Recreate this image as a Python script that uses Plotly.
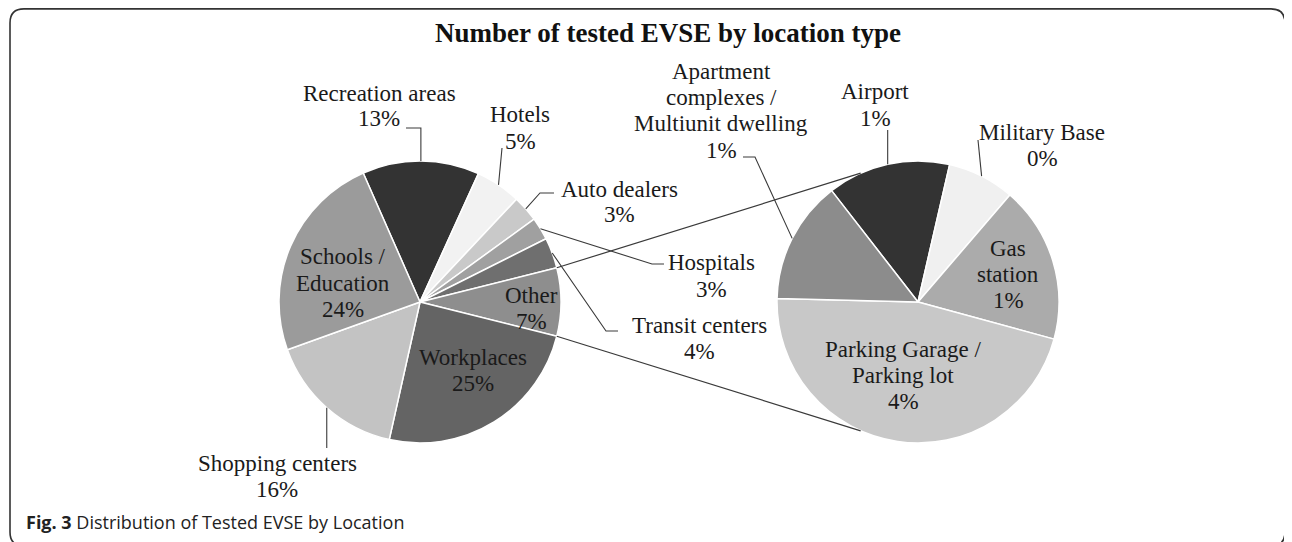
import numpy as np
import plotly.graph_objects as go

# the page puts the figure 8px in from the top-left corner of the window
OFF = 8
W, H = 1292 - OFF, 542 - OFF

# ---- data (slice sizes in % of all tested EVSE) ----
left_names = ["Recreation areas", "Hotels", "Auto dealers", "Hospitals", "Transit centers",
              "Other", "Workplaces", "Shopping centers", "Schools /<br>Education"]
left_values = [13.4, 5.2, 3.0, 2.6, 3.5, 7.8, 24.6, 16.0, 23.9]
left_pct = ["13%", "5%", "3%", "3%", "4%", "7%", "25%", "16%", "24%"]

# "Other" broken down in the second pie
right_names = ["Airport", "Military Base", "Gas<br>station", "Parking Garage /<br>Parking lot",
               "Apartment<br>complexes /<br>Multiunit dwelling"]
right_values = [1.1, 0.6, 1.4, 3.6, 1.1]
right_pct = ["1%", "0%", "1%", "4%", "1%"]

left_colors = ["#333333", "#f2f2f2", "#c9c9c9", "#a0a0a0", "#6f6f6f",
               "#8e8e8e", "#646464", "#c3c3c3", "#9b9b9b"]
right_colors = ["#333333", "#f0f0f0", "#ababab", "#c8c8c8", "#8c8c8c"]

OTHER = left_names.index("Other")

# pie geometry in window pixels
LC, RC, R = (420, 302), (918, 302), 141
# Excel centres the "Other" slice on 3 o'clock
tot = sum(left_values)
left_rot = 90 - (sum(left_values[:OTHER]) + left_values[OTHER] / 2) / tot * 360
right_rot = -37.8


def px(x):
    return (x - OFF) / W


def py(y):
    return 1 - (y - OFF) / H


def dom(c):
    return dict(x=[px(c[0] - R), px(c[0] + R)], y=[py(c[1] + R), py(c[1] - R)])


def edges(values, rot):
    cum = np.concatenate([[0], np.cumsum(values)]) / sum(values) * 360
    return rot + cum


def on_circle(c, ang):
    a = np.radians(ang)
    return c[0] + R * np.sin(a), c[1] - R * np.cos(a)


def poly(points, width=1.1, color="#3a3a3a"):
    d = "M " + " L ".join(f"{px(x):.5f},{py(y):.5f}" for x, y in points)
    return dict(type="path", path=d, xref="paper", yref="paper",
                line=dict(color=color, width=width), layer="above")


fig = go.Figure()
fig.add_trace(go.Pie(values=left_values, labels=left_names, sort=False, direction="clockwise",
                     rotation=left_rot, domain=dom(LC), textinfo="none", hoverinfo="label+value",
                     marker=dict(colors=left_colors, line=dict(color="white", width=1.5))))
fig.add_trace(go.Pie(values=right_values, labels=right_names, sort=False, direction="clockwise",
                     rotation=right_rot, domain=dom(RC), textinfo="none", hoverinfo="label+value",
                     marker=dict(colors=right_colors, line=dict(color="white", width=1.5))))

shapes = []
# connector lines between the "Other" slice and the second pie
le = edges(left_values, left_rot)
shapes.append(poly([on_circle(LC, le[OTHER]), on_circle(RC, 336)], width=1.2))
shapes.append(poly([on_circle(LC, le[OTHER + 1]), on_circle(RC, 204)], width=1.2))

# leader lines: start at the slice mid-point on the rim, then elbow points
left_leaders = {0: [("x", 128), (406, 128)], 1: [(502, 148)], 2: [(540, 193), (554, 193)],
                3: [(652, 264), (664, 264)], 4: [(606, 331), (618, 331)], 7: [("x", 448)]}
right_leaders = {0: [("x", 130)], 1: [(978, 140)], 4: [(755, 157), (743, 157)]}
for c, vals, rot, leaders in [(LC, left_values, left_rot, left_leaders),
                              (RC, right_values, right_rot, right_leaders)]:
    e = edges(vals, rot)
    for i, pts in leaders.items():
        a = on_circle(c, (e[i] + e[i + 1]) / 2)
        pts = [(a[0] if x == "x" else x, y) for x, y in pts]
        shapes.append(poly([a] + pts))

# rounded frame
x0, y0, x1, y1, r = 10, 8.9, 1285, 546, 14
frame = (f"M {px(x0)},{py(y1 - r)} L {px(x0)},{py(y0 + r)} Q {px(x0)},{py(y0)} {px(x0 + r)},{py(y0)} "
         f"L {px(x1 - r)},{py(y0)} Q {px(x1)},{py(y0)} {px(x1)},{py(y0 + r)} L {px(x1)},{py(y1 - r)} "
         f"Q {px(x1)},{py(y1)} {px(x1 - r)},{py(y1)} L {px(x0 + r)},{py(y1)} Q {px(x0)},{py(y1)} {px(x0)},{py(y1 - r)}")
shapes.append(dict(type="path", path=frame, xref="paper", yref="paper",
                   line=dict(color="#333333", width=1.6)))

# label block centres (window pixels)
left_pos = [(379, 106), (520, 128), (619, 202), (711, 276), (700, 338),
            (531, 308), (473, 370), (277, 476), (343, 283)]
right_pos = [(875, 105), (1042, 145), (1008, 274), (903, 375), (721, 111)]

LS = 26
SERIF = "Liberation Serif"
annotations = []
for names, pcts, pos in [(left_names, left_pct, left_pos), (right_names, right_pct, right_pos)]:
    for name, pct, (cx, cy) in zip(names, pcts, pos):
        lines = name.split("<br>") + [pct]
        n = len(lines)
        for k, line in enumerate(lines):
            annotations.append(dict(text=line, x=px(cx), y=py(cy + (k - (n - 1) / 2) * LS),
                                     xref="paper", yref="paper", showarrow=False,
                                     xanchor="center", yanchor="middle",
                                     font=dict(family=SERIF, size=23, color="#1a1a1a")))

annotations.append(dict(text="<b>Number of tested EVSE by location type</b>", x=px(668), y=py(33),
                        xref="paper", yref="paper", showarrow=False, xanchor="center", yanchor="middle",
                        font=dict(family=SERIF, size=27, color="#111111")))
annotations.append(dict(text="<b>Fig. 3</b> Distribution of Tested EVSE by Location", x=px(24), y=py(522),
                        xref="paper", yref="paper", showarrow=False, xanchor="left", yanchor="middle",
                        font=dict(family="Open Sans", size=18, color="#222222")))

fig.update_layout(width=W, height=H, margin=dict(l=0, r=0, t=0, b=0),
                  paper_bgcolor="white", plot_bgcolor="white", showlegend=False,
                  shapes=shapes, annotations=annotations)

fig.write_html("out.html")
